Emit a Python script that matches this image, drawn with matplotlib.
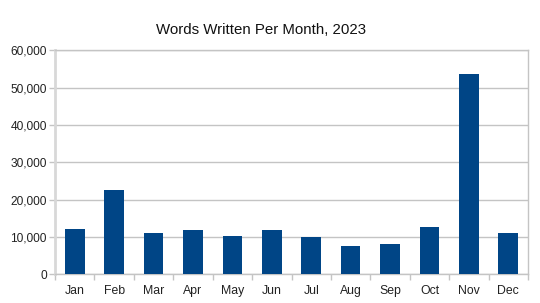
import matplotlib.pyplot as plt
import numpy as np
from matplotlib.ticker import FuncFormatter, FixedLocator

months = ["Jan", "Feb", "Mar", "Apr", "May", "Jun",
          "Jul", "Aug", "Sep", "Oct", "Nov", "Dec"]
words = [12100, 22600, 11000, 11950, 10300, 11800,
         9900, 7600, 8200, 12750, 53600, 11150]

plt.rcParams['font.family'] = ['Liberation Sans', 'DejaVu Sans']

fig = plt.figure(figsize=(5.4, 3.03), dpi=100)
ax = fig.add_axes([0.1019, 0.0947, 0.8759, 0.7393])

x = np.arange(len(months))
ax.bar(x, words, width=0.5, color="#004586", zorder=3)

ax.set_xlim(-0.5, len(months) - 0.5)
ax.set_ylim(0, 60000)
ax.set_yticks(range(0, 60001, 10000))
ax.yaxis.set_major_formatter(FuncFormatter(lambda v, p: f"{int(v):,}"))
ax.grid(axis="y", color="#c4c4c4", linewidth=1, zorder=0)

# category labels centred, tick marks on the boundaries
ax.set_xticks(x)
ax.set_xticklabels(months)
ax.tick_params(axis="x", which="major", length=0, pad=8, labelsize=8.8,
               labelcolor="#222222")
ax.xaxis.set_minor_locator(FixedLocator(np.arange(-0.5, len(months), 1.0)))
ax.tick_params(axis="x", which="minor", length=4, color="#c4c4c4", width=1)
ax.tick_params(axis="y", length=4, color="#c4c4c4", width=1, labelsize=8.6,
               pad=2, labelcolor="#222222")

for s in ax.spines.values():
    s.set_color("#c4c4c4")
    s.set_linewidth(1)
ax.spines["left"].set_color("#d8d8d8")
ax.spines["left"].set_linewidth(2)

fig.suptitle("Words Written Per Month, 2023", x=0.484, y=0.925, fontsize=10.8,
             color="#111111")

fig.savefig("out.png", dpi=100)
